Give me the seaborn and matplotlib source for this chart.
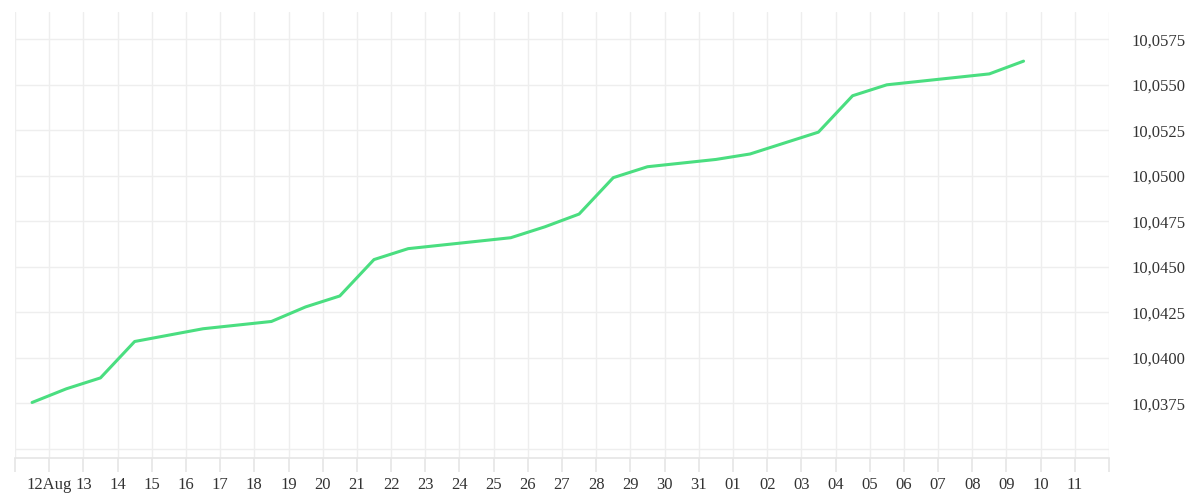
import pandas as pd
import numpy as np
import matplotlib.pyplot as plt
import matplotlib.dates as mdates
from matplotlib.ticker import FuncFormatter, MultipleLocator
import seaborn as sns

# daily values, sampled at mid-day from Aug 11 to Sep 9
dates = pd.date_range("2024-08-11 12:00", "2024-09-09 12:00", freq="D")
values = [10.03755, 10.0383, 10.0389, 10.0409, 10.04125, 10.0416, 10.0418, 10.0420,
          10.0428, 10.0434, 10.0454, 10.0460, 10.0462, 10.0464, 10.0466, 10.0472,
          10.0479, 10.0499, 10.0505, 10.0507, 10.0509, 10.0512, 10.0518, 10.0524,
          10.0544, 10.0550, 10.0552, 10.0554, 10.0556, 10.0563]
df = pd.DataFrame({"date": dates, "value": values})

sns.set_theme(style="white")
plt.rcParams["font.family"] = ["Liberation Serif", "DejaVu Serif"]

fig = plt.figure(figsize=(12, 5), dpi=100)
ax = fig.add_axes([15 / 1200, 1 - 458 / 500, 1094 / 1200, 446 / 500])
sns.lineplot(data=df, x="date", y="value", color="#4ade80", linewidth=2.2, ax=ax)

ax.set_xlim(pd.Timestamp("2024-08-11"), pd.Timestamp("2024-09-12"))
ax.set_ylim(10.0345, 10.0590)
ax.yaxis.set_major_locator(MultipleLocator(0.0025))
ax.yaxis.tick_right()
ax.yaxis.set_major_formatter(FuncFormatter(
    lambda v, p: "" if v < 10.0370 else f"{v:.4f}".replace(".", ",")))
ax.xaxis.set_major_locator(mdates.DayLocator())

def fmt_day(x, pos):
    d = mdates.num2date(x)
    if d.day == 12 and d.month == 8:
        return "12Aug"
    if d.day == 11 and d.month == 8:
        return ""
    if d.day == 12 and d.month == 9:
        return ""
    return f"{d.day:02d}"

ax.xaxis.set_major_formatter(FuncFormatter(fmt_day))
ax.grid(True, color="#eeeeee", linewidth=1)
for s in ["top", "right", "left"]:
    ax.spines[s].set_visible(False)
ax.spines["bottom"].set_color("#e6e6e6")
ax.tick_params(axis="x", length=10, color="#e6e6e6", labelsize=12, labelcolor="#333333", bottom=True, pad=4)
ax.tick_params(axis="y", length=0, labelsize=12, labelcolor="#333333", pad=16)
ax.set_xlabel("")
ax.set_ylabel("")

fig.savefig("out.png", dpi=100)
